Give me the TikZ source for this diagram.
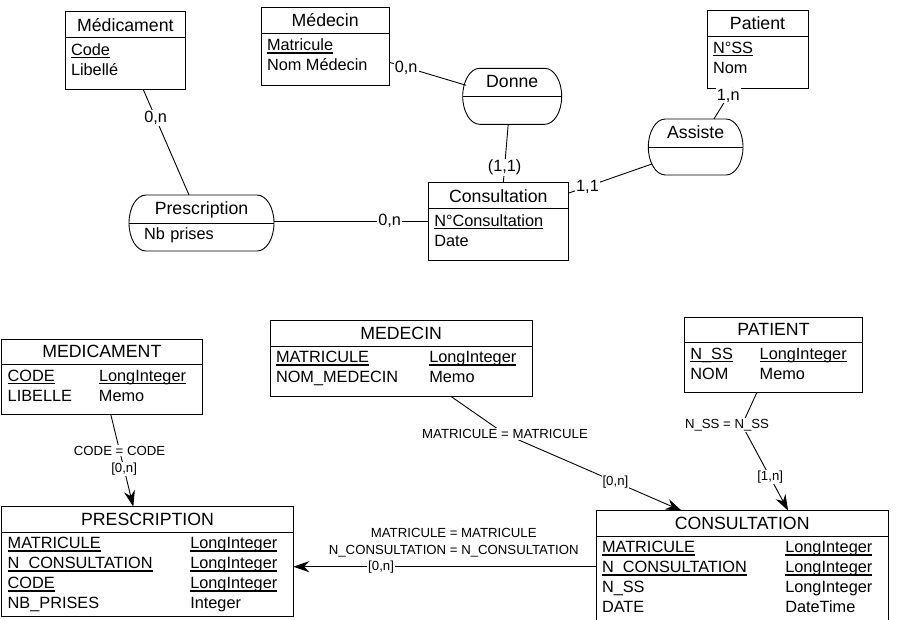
\documentclass[tikz,border=0pt]{standalone}
\usepackage{fontspec}
\setmainfont{Liberation Sans}
\usetikzlibrary{positioning, calc, arrows.meta}

\newcommand{\keyattr}[1]{\leavevmode\sbox0{#1}\rlap{\rule[-2.8pt]{\wd0}{1.3pt}}\usebox0}
\newcommand{\assocframe}[2]{%
  \draw[line width=0.9pt] ($(#1.north west)+(17,0)$) -- ($(#1.north east)+(-17,0)$)
    arc[start angle=90, end angle=-90, x radius=17pt, y radius=28pt]
    -- ($(#2.south west)+(17,0)$)
    arc[start angle=270, end angle=90, x radius=17pt, y radius=28pt] -- cycle;
  \draw[line width=0.9pt] (#1.south west) -- (#1.south east);}

\begin{document}
\begin{tikzpicture}[x=1pt, y=-1pt,
    enthead/.style={draw, line width=0.9pt, outer sep=0pt, inner sep=0pt, minimum height=26pt, text height=13.2pt, text depth=0pt, font=\fontsize{17.7}{21}\selectfont},
    entattr/.style={draw, line width=0.9pt, outer sep=0pt, inner xsep=6pt, inner ysep=0pt, text height=17.5pt, text depth=34.5pt, font=\fontsize{16.3}{20}\selectfont},
    assochead/.style={outer sep=0pt, inner sep=0pt, minimum height=28pt, text height=12.5pt, text depth=1.5pt, font=\fontsize{17.7}{21}\selectfont},
    assocattr/.style={outer sep=0pt, inner xsep=15pt, inner ysep=0pt, minimum height=28pt, text height=11pt, text depth=6pt, align=left, font=\fontsize{16.3}{20}\selectfont},
    tabhead/.style={enthead, minimum height=25.5pt, text height=11.7pt},
    tabcols/.style={entattr, text height=16.5pt, text depth=33.5pt},
    link/.style={line width=0.9pt},
    card/.style={fill=white, inner sep=1pt, font=\fontsize{16.3}{20}\selectfont},
    fk/.style={line width=0.9pt, -{Stealth[length=16pt, width=11pt]}},
    fklabel/.style={fill=white, inner sep=1pt, font=\fontsize{13.2}{17}\selectfont},
]
\useasboundingbox (0,0) rectangle (917,619);
\clip (0,0) rectangle (917,619);

% ── Conceptual model ──
\node[enthead, minimum width=120.7pt, anchor=north west] (medicament) at (65,11.7) {Médicament};
\node[entattr, below=0pt of medicament] (medicamentA) {\begin{tabular}[t]{@{}p{108.7pt}@{}}\keyattr{Code}\\Libellé\end{tabular}};

\node[enthead, minimum width=128.3pt, anchor=north west] (medecin) at (261,7.3) {Médecin};
\node[entattr, below=0pt of medecin] (medecinA) {\begin{tabular}[t]{@{}p{116.3pt}@{}}\keyattr{Matricule}\\Nom Médecin\end{tabular}};

\node[enthead, minimum width=101pt, anchor=north west] (patient) at (707,10) {Patient};
\node[entattr, below=0pt of patient] (patientA) {\begin{tabular}[t]{@{}p{89pt}@{}}\keyattr{N°SS}\\Nom\end{tabular}};

\node[enthead, minimum width=140pt, anchor=north west] (consultation) at (428.3,182.7) {Consultation};
\node[entattr, below=0pt of consultation] (consultationA) {\begin{tabular}[t]{@{}p{128pt}@{}}\keyattr{N°Consultation}\\Date\end{tabular}};

\node[assochead, minimum width=145pt, anchor=north west] (prescription) at (129,195) {Prescription};
\node[assocattr, text width=115pt, below=0pt of prescription] (prescriptionA) {Nb prises};
\assocframe{prescription}{prescriptionA}

\node[assochead, minimum width=99pt, anchor=north west] (donne) at (462.7,68.3) {Donne};
\node[assocattr, minimum width=99pt, below=0pt of donne] (donneA) {};
\assocframe{donne}{donneA}

\node[assochead, minimum width=94.7pt, anchor=north west] (assiste) at (648.3,119) {Assiste};
\node[assocattr, minimum width=94.7pt, below=0pt of assiste] (assisteA) {};
\assocframe{assiste}{assisteA}

\draw[link] ($(medicamentA.south)+(18,0)$) -- node[card, pos=0.27] (c1) {0,n} ($(prescription.north)+(-12.5,0)$);
\draw[link] ($(medecinA.east)+(0,3)$) -- node[card, pos=0.22] (c2) {0,n} ($(donne.west)+(3.5,3)$);
\draw[link] ($(donneA.south)+(-4,0)$) -- node[card, pos=0.74] (c3) {(1,1)} ($(consultation.north)+(5,0)$);
\draw[link] ($(consultation.east)+(0,-2.5)$) -- node[card, pos=0.23] (c4) {1,1} ($(assisteA.west)+(3.5,3)$);
\draw[link] ($(patientA.south)+(-24.5,0)$) -- node[card, pos=0.25] (c5) {1,n} ($(assiste.north)+(18.3,0)$);
\draw[link] ($(prescription.south east)+(0,-2)$) -- node[card, pos=0.75] (c6) {0,n} ($(consultationA.north west)+(0,12.3)$);

% ── Physical model ──
\node[tabhead, minimum width=200.3pt, anchor=north west] (tmedicament) at (1.7,339.3) {MEDICAMENT};
\node[tabcols, below=0pt of tmedicament] (tmedicamentA) {\begin{tabular}[t]{@{}p{91.3pt}@{}p{97pt}@{}}\keyattr{CODE} & \keyattr{LongInteger}\\LIBELLE & Memo\end{tabular}};

\node[tabhead, minimum width=262.3pt, anchor=north west] (tmedecin) at (270,320.7) {MEDECIN};
\node[tabcols, below=0pt of tmedecin] (tmedecinA) {\begin{tabular}[t]{@{}p{153.3pt}@{}p{97pt}@{}}\keyattr{MATRICULE} & \keyattr{LongInteger}\\NOM\_MEDECIN & Memo\end{tabular}};

\node[tabhead, minimum width=178.4pt, anchor=north west] (tpatient) at (684.3,317.3) {PATIENT};
\node[tabcols, below=0pt of tpatient] (tpatientA) {\begin{tabular}[t]{@{}p{69.4pt}@{}p{97pt}@{}}\keyattr{N\_SS} & \keyattr{LongInteger}\\NOM & Memo\end{tabular}};

\node[tabhead, minimum width=291.6pt, anchor=north west] (tprescription) at (1.7,506.7) {PRESCRIPTION};
\node[tabcols, text depth=67.5pt, below=0pt of tprescription] (tprescriptionA) {\begin{tabular}[t]{@{}p{182.6pt}@{}p{97pt}@{}}\keyattr{MATRICULE} & \keyattr{LongInteger}\\\keyattr{N\_CONSULTATION} & \keyattr{LongInteger}\\\keyattr{CODE} & \keyattr{LongInteger}\\NB\_PRISES & Integer\end{tabular}};

\node[tabhead, minimum width=292.3pt, anchor=north west] (tconsultation) at (596,510.7) {CONSULTATION};
\node[tabcols, text depth=120pt, below=0pt of tconsultation] (tconsultationA) {\begin{tabular}[t]{@{}p{183.3pt}@{}p{97pt}@{}}\keyattr{MATRICULE} & \keyattr{LongInteger}\\\keyattr{N\_CONSULTATION} & \keyattr{LongInteger}\\N\_SS & LongInteger\\DATE & DateTime\end{tabular}};

\coordinate (bendMat) at (505,434);
\coordinate (bendSS) at (742,425);

\draw[fk] ($(tmedicamentA.south)+(9,0)$) -- node[fklabel, pos=0.39] (j1) {CODE = CODE} node[fklabel, pos=0.59] (j2) {[0,n]} ($(tprescription.north)+(-14.2,0)$);
\draw[fk] ($(tmedecinA.south)+(49.5,0)$) -- (bendMat) node[fklabel] (j3) {MATRICULE = MATRICULE} -- node[fklabel, pos=0.625] (j4) {[0,n]} ($(tconsultation.north)+(-60.5,0)$);
\draw[fk] ($(tpatientA.south)+(-16.8,0)$) -- (bendSS) node[fklabel, xshift=-15pt] (j5) {N\_SS = N\_SS} -- node[fklabel, pos=0.61] (j6) {[1,n]} ($(tconsultation.north)+(46,0)$);
\draw[fk] ($(tconsultationA.north west)+(0,30.5)$) -- node[fklabel, pos=0.71] (j8) {[0,n]} node[fklabel, pos=0.47, above=8pt, align=center] (j7) {MATRICULE = MATRICULE\\N\_CONSULTATION = N\_CONSULTATION} ($(tprescriptionA.north east)+(0,34.5)$);

\end{tikzpicture}
\end{document}
